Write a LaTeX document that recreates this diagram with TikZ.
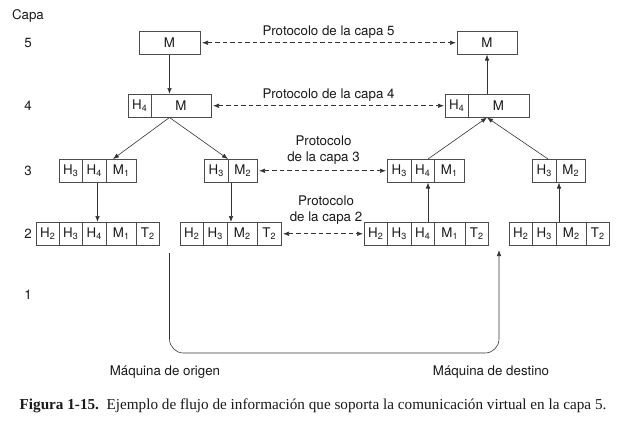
\documentclass[tikz,border=0pt]{standalone}
\usepackage{fontspec}
\setmainfont{Liberation Serif}
\setsansfont{TeX Gyre Heros}
\usetikzlibrary{arrows.meta}
\newcommand{\lsub}[1]{\raisebox{-0.35ex}{\fontsize{9}{9}\selectfont #1}}
\begin{document}
\begin{tikzpicture}[x=1pt,y=-1pt,
  font=\sffamily\fontsize{13.3}{16}\selectfont,
  cell/.style={draw=black!70, line width=0.7pt, inner sep=0pt, outer sep=0pt,
    anchor=north west, minimum height=23.5pt, minimum width=#1, text=black!90},
  lbl/.style={inner sep=0pt, text=black!90},
  arr/.style={-{Latex[length=6pt,width=4.5pt]}, draw=black!80, line width=0.6pt},
  dasharr/.style={{Latex[length=6pt,width=4.5pt]}-{Latex[length=6pt,width=4.5pt]},
    draw=black!80, line width=0.6pt, dash pattern=on 4.5pt off 3pt}
]
\useasboundingbox (0,0) rectangle (618,421);

% layer labels
\node[lbl] (capa) at (28,16) {Capa};
\node[lbl] (n5) at (28,43) {5};
\node[lbl] (n4) at (28,106) {4};
\node[lbl] (n3) at (28,171) {3};
\node[lbl] (n2) at (28,234) {2};
\node[lbl] (n1) at (28,295) {1};

% layer 5
\node[cell=61pt] (L5) at (139,31) {M};
\node[cell=60pt] (R5) at (457,31) {M};

% layer 4
\node[cell=23pt] (L4h) at (128,94) {H\lsub{4}};
\node[cell=60pt] (L4m) at (151,94) {M};
\node[cell=23pt] (R4h) at (445,94) {H\lsub{4}};
\node[cell=61pt] (R4m) at (468,94) {M};

% layer 3
\node[cell=23pt] (LA3h3) at (59,159) {H\lsub{3}};
\node[cell=24pt] (LA3h4) at (82,159) {H\lsub{4}};
\node[cell=30pt] (LA3m) at (106,159) {M\lsub{1}};
\node[cell=24pt] (LB3h3) at (204,159) {H\lsub{3}};
\node[cell=29pt] (LB3m) at (228,159) {M\lsub{2}};
\node[cell=24pt] (RA3h3) at (387,159) {H\lsub{3}};
\node[cell=23pt] (RA3h4) at (411,159) {H\lsub{4}};
\node[cell=30pt] (RA3m) at (434,159) {M\lsub{1}};
\node[cell=24pt] (RB3h3) at (532,159) {H\lsub{3}};
\node[cell=29pt] (RB3m) at (556,159) {M\lsub{2}};

% layer 2
\node[cell=23pt] (LA2h2) at (36,222) {H\lsub{2}};
\node[cell=23pt] (LA2h3) at (59,222) {H\lsub{3}};
\node[cell=24pt] (LA2h4) at (82,222) {H\lsub{4}};
\node[cell=30pt] (LA2m) at (106,222) {M\lsub{1}};
\node[cell=23pt] (LA2t) at (136,222) {T\lsub{2}};
\node[cell=23pt] (LB2h2) at (180,222) {H\lsub{2}};
\node[cell=24pt] (LB2h3) at (203,222) {H\lsub{3}};
\node[cell=30pt] (LB2m) at (227,222) {M\lsub{2}};
\node[cell=24pt] (LB2t) at (257,222) {T\lsub{2}};
\node[cell=23pt] (RA2h2) at (364,222) {H\lsub{2}};
\node[cell=24pt] (RA2h3) at (387,222) {H\lsub{3}};
\node[cell=23pt] (RA2h4) at (411,222) {H\lsub{4}};
\node[cell=31pt] (RA2m) at (434,222) {M\lsub{1}};
\node[cell=23pt] (RA2t) at (465,222) {T\lsub{2}};
\node[cell=23pt] (RB2h2) at (509,222) {H\lsub{2}};
\node[cell=24pt] (RB2h3) at (532,222) {H\lsub{3}};
\node[cell=30pt] (RB2m) at (556,222) {M\lsub{2}};
\node[cell=23pt] (RB2t) at (586,222) {T\lsub{2}};

% protocol labels
\node[lbl] (p5) at (328.5,32) {Protocolo de la capa 5};
\node[lbl] (p4) at (328.5,95.5) {Protocolo de la capa 4};
\node[lbl, align=center] (p3) at (323.5,150) {Protocolo\\de la capa 3};
\node[lbl, align=center] (p2) at (326,210) {Protocolo\\de la capa 2};

% dashed peer arrows
\draw[dasharr] ([xshift=2pt]L5.east) -- ([xshift=-1pt]R5.west);
\draw[dasharr] ([xshift=2pt]L4m.east) -- ([xshift=-1pt]R4h.west);
\draw[dasharr] ([xshift=2pt]LB3m.east) -- ([xshift=-1pt]RA3h3.west);
\draw[dasharr] ([xshift=2pt]LB2t.east) -- ([xshift=-1pt]RA2h2.west);

% source side
\draw[arr] (L5.south) -- (L5.south |- L4m.north);
\coordinate (apexL) at (L5.south |- L4m.south);
\draw[arr] (apexL) -- ([xshift=7pt]LA3m.north west);
\draw[arr] (apexL) -- (LB3h3.north east);
\draw[arr] ([xshift=3.5pt]LA3h4.south) -- ([xshift=3.5pt]LA3h4.south |- LA2h4.north);
\draw[arr] ([xshift=3pt]LB3m.south west) -- ([xshift=3pt]LB3m.south west |- LB2m.north);

% destination side
\draw[arr] (R5.south |- R4m.north) -- (R5.south);
\coordinate (apexR) at (R5.south |- R4m.south);
\draw[arr] ([xshift=-6pt]RA3h4.north east) -- (apexR);
\draw[arr] ([xshift=-8pt]RB3h3.north east) -- (apexR);
\draw[arr] ([xshift=-6pt]RA2h4.north east) -- ([xshift=-6pt]RA3h4.south east);
\draw[arr] ([xshift=3pt]RB2m.north west) -- ([xshift=3pt]RB3m.south west);

% physical medium
\coordinate (phyA) at (169.5,253);
\coordinate (phyB) at (499,250);
\draw[arr, rounded corners=14pt] (phyA) -- (169.5,353) -- (499,353) -- (phyB);

\node[lbl] (mo) at (165,372) {Máquina de origen};
\node[lbl] (md) at (491,372) {Máquina de destino};

\node[lbl, font=\rmfamily\fontsize{15.2}{18}\selectfont] (cap) at (313,406)
  {\textbf{Figura 1-15.}\ \ Ejemplo de flujo de información que soporta la comunicación virtual en la capa 5.};
\end{tikzpicture}
\end{document}
